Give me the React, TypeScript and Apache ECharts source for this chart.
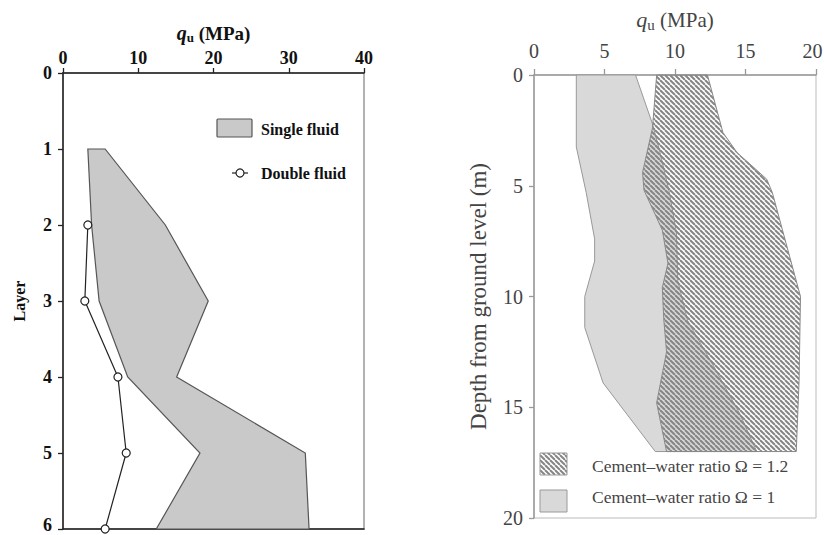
import React, { useEffect, useRef } from "react";
import * as echarts from "echarts";

// Left panel: strength by layer
const singleLayers = [1, 2, 3, 4, 5, 6];
const singleMin = [3.3, 3.8, 4.8, 8.6, 18.2, 12.4];
const singleMax = [5.6, 13.6, 19.3, 15.1, 32.2, 32.7];
const doubleLayers = [2, 3, 4, 5, 6];
const doubleValues = [3.3, 2.9, 7.3, 8.4, 5.6];

// Right panel: strength envelopes by depth (m)
const ratio1LeftDepth = [0, 3.25, 5.3, 7.4, 8.4, 10, 11.4, 13.9, 17];
const ratio1LeftQu = [3.0, 3.0, 3.7, 4.3, 4.3, 3.6, 3.6, 4.9, 8.6];
const ratio1RightDepth = [0, 2.2, 3.4, 5.3, 7.1, 9.3, 11.1, 13.1, 15.3, 17];
const ratio1RightQu = [7.2, 8.4, 8.9, 9.6, 10.1, 10.2, 10.9, 12.7, 14.6, 15.8];
const ratio12LeftDepth = [0, 2.4, 4.4, 5.2, 7.0, 8.5, 9.6, 11, 12.5, 14.8, 17];
const ratio12LeftQu = [8.7, 8.4, 7.7, 7.8, 9.1, 9.5, 9.1, 9.2, 9.4, 8.7, 9.4];
const ratio12RightDepth = [0, 2.6, 3.5, 4.7, 5.3, 10, 13.8, 17];
const ratio12RightQu = [12.3, 13.4, 14.4, 16.5, 16.9, 18.9, 18.8, 18.6];

const SERIF = "'Liberation Serif', 'Times New Roman', serif";

function makeHatch() {
  const s = 5;
  const c = document.createElement("canvas");
  c.width = s;
  c.height = s;
  const ctx = c.getContext("2d")!;
  ctx.strokeStyle = "#858585";
  ctx.lineWidth = 2;
  for (let k = -1; k <= 1; k++) {
    ctx.beginPath();
    ctx.moveTo(k * s, 0);
    ctx.lineTo(k * s + s, s);
    ctx.stroke();
  }
  return { image: c, repeat: "repeat", imageWidth: s, imageHeight: s } as any;
}

function band(
  name: string,
  axis: number,
  leftQ: number[],
  leftD: number[],
  rightQ: number[],
  rightD: number[],
  style: any,
  z: number
) {
  return {
    type: "custom",
    name,
    xAxisIndex: axis,
    yAxisIndex: axis,
    z,
    data: [[leftQ[0], leftD[0]]],
    renderItem: (_p: any, api: any) => {
      const pts: number[][] = [];
      leftQ.forEach((q, i) => pts.push(api.coord([q, leftD[i]])));
      for (let i = rightQ.length - 1; i >= 0; i--) pts.push(api.coord([rightQ[i], rightD[i]]));
      return { type: "polygon", shape: { points: pts }, style };
    },
  };
}

export default function App() {
  const ref = useRef<HTMLDivElement>(null);

  useEffect(() => {
    const chart = echarts.init(ref.current!, null, { renderer: "svg" });
    const hatch = makeHatch();

    const leftName = {
      q: { fontFamily: SERIF, fontStyle: "italic", fontWeight: "bold", fontSize: 20, color: "#111" },
      u: { fontFamily: SERIF, fontWeight: "bold", fontSize: 13, color: "#111", padding: [9, 0, 0, 0] },
      t: { fontFamily: SERIF, fontWeight: "bold", fontSize: 19, color: "#111" },
    };
    const rightName = {
      q: { fontFamily: SERIF, fontStyle: "italic", fontSize: 22, color: "#444" },
      u: { fontFamily: SERIF, fontSize: 15, color: "#444", padding: [10, 0, 0, 0] },
      t: { fontFamily: SERIF, fontSize: 21, color: "#444" },
    };

    chart.setOption({
      animation: false,
      backgroundColor: "#fff",
      grid: [
        {
          left: 63,
          top: 73,
          width: 301,
          height: 456,
          outerBoundsMode: "none",
          show: true,
          borderColor: "#999",
          borderWidth: 1.5,
        },
        {
          left: 534,
          top: 75,
          width: 282,
          height: 443,
          outerBoundsMode: "none",
          show: true,
          borderColor: "#bbb",
          borderWidth: 1,
        },
      ],
      xAxis: [
        {
          gridIndex: 0,
          type: "value",
          position: "top",
          min: 0,
          max: 40,
          interval: 10,
          name: "{q|q}{u|u}{t| (MPa)}",
          nameLocation: "middle",
          nameGap: 28,
          nameTextStyle: { rich: leftName },
          axisLine: { show: true, lineStyle: { color: "#222", width: 1.5 } },
          axisTick: { show: true, length: 5, lineStyle: { color: "#222", width: 1.3 } },
          axisLabel: { fontFamily: SERIF, fontWeight: "bold", fontSize: 18, color: "#111", margin: 6 },
          splitLine: { show: false },
        },
        {
          gridIndex: 1,
          type: "value",
          position: "top",
          min: 0,
          max: 20,
          interval: 5,
          name: "{q|q}{u|u}{t| (MPa)}",
          nameLocation: "middle",
          nameGap: 43,
          nameTextStyle: { rich: rightName },
          axisLine: { show: true, lineStyle: { color: "#999", width: 1.5 } },
          axisTick: { show: true, length: 6, lineStyle: { color: "#999", width: 1.3 } },
          axisLabel: {
            fontFamily: SERIF,
            fontSize: 20,
            color: "#444",
            margin: 14,
            // the last label sits against the page edge, so nudge it inwards
            formatter: (v: number) => (v === 20 ? `{e|${v}}` : String(v)),
            rich: { e: { fontFamily: SERIF, fontSize: 20, color: "#444", padding: [0, 7, 0, 0] } },
          },
          splitLine: { show: false },
        },
        {
          gridIndex: 0,
          type: "value",
          position: "bottom",
          min: 0,
          max: 40,
          axisLine: { show: true, lineStyle: { color: "#222", width: 1.5 } },
          axisTick: { show: false },
          axisLabel: { show: false },
          splitLine: { show: false },
        },
      ],
      yAxis: [
        {
          gridIndex: 0,
          type: "value",
          inverse: true,
          min: 0,
          max: 6,
          interval: 1,
          name: "Layer",
          nameLocation: "middle",
          nameGap: 36,
          nameTextStyle: { fontFamily: SERIF, fontWeight: "bold", fontSize: 16, color: "#111" },
          axisLine: { show: true, lineStyle: { color: "#222", width: 1.5 } },
          axisTick: { show: true, length: 5, lineStyle: { color: "#222", width: 1.3 } },
          axisLabel: {
            fontFamily: SERIF,
            fontWeight: "bold",
            fontSize: 18,
            color: "#111",
            margin: 11,
            // the bottom label sits against the page edge, so lift it slightly
            formatter: (v: number) => (v === 6 ? `{e|${v}}` : String(v)),
            rich: {
              e: { fontFamily: SERIF, fontWeight: "bold", fontSize: 18, color: "#111", padding: [0, 0, 8, 0] },
            },
          },
          splitLine: { show: false },
        },
        {
          gridIndex: 1,
          type: "value",
          inverse: true,
          min: 0,
          max: 20,
          interval: 5,
          name: "Depth from ground level (m)",
          nameLocation: "middle",
          nameGap: 44,
          nameTextStyle: { fontFamily: SERIF, fontSize: 23, color: "#444" },
          axisLine: { show: true, lineStyle: { color: "#999", width: 1.5 } },
          axisTick: { show: true, length: 5, lineStyle: { color: "#999", width: 1.3 } },
          axisLabel: { fontFamily: SERIF, fontSize: 20, color: "#444", margin: 11 },
          splitLine: { show: false },
        },
      ],
      series: [
        band(
          "Single fluid",
          0,
          singleMin,
          singleLayers,
          singleMax,
          singleLayers,
          { fill: "#c9c9c9", stroke: "#555", lineWidth: 1.2 },
          2
        ),
        {
          type: "line",
          name: "Double fluid",
          xAxisIndex: 0,
          yAxisIndex: 0,
          z: 3,
          clip: false,
          data: doubleValues.map((v, i) => [v, doubleLayers[i]]),
          symbol: "circle",
          symbolSize: 8,
          lineStyle: { color: "#222", width: 1.2 },
          itemStyle: { color: "#fff", borderColor: "#222", borderWidth: 1.2 },
        },
        band(
          "Cement–water ratio Ω = 1",
          1,
          ratio1LeftQu,
          ratio1LeftDepth,
          ratio1RightQu,
          ratio1RightDepth,
          { fill: "#d9d9d9", stroke: "#999", lineWidth: 1 },
          2
        ),
        band(
          "Cement–water ratio Ω = 1.2",
          1,
          ratio12LeftQu,
          ratio12LeftDepth,
          ratio12RightQu,
          ratio12RightDepth,
          { fill: hatch, stroke: "#888", lineWidth: 1 },
          3
        ),
      ],
      graphic: [
        // left legend
        { type: "rect", shape: { x: 217, y: 119, width: 35, height: 18, r: 1 }, style: { fill: "#c9c9c9", stroke: "#555", lineWidth: 1.2 } },
        { type: "text", x: 261, y: 129, style: { text: "Single fluid", font: `bold 16px ${SERIF}`, fill: "#111", textVerticalAlign: "middle" } },
        { type: "line", shape: { x1: 232, y1: 173, x2: 248, y2: 173 }, style: { stroke: "#222", lineWidth: 1.2 } },
        { type: "circle", shape: { cx: 240, cy: 173, r: 4 }, style: { fill: "#fff", stroke: "#222", lineWidth: 1.2 } },
        { type: "text", x: 261, y: 173, style: { text: "Double fluid", font: `bold 16px ${SERIF}`, fill: "#111", textVerticalAlign: "middle" } },
        // right legend
        { type: "rect", shape: { x: 540, y: 453, width: 27, height: 22 }, style: { fill: hatch, stroke: "#999", lineWidth: 1 } },
        { type: "text", x: 592, y: 466, style: { text: "Cement–water ratio Ω = 1.2", font: `17.5px ${SERIF}`, fill: "#444", textVerticalAlign: "middle" } },
        { type: "rect", shape: { x: 540, y: 490, width: 27, height: 22 }, style: { fill: "#d9d9d9", stroke: "#999", lineWidth: 1 } },
        { type: "text", x: 592, y: 497, style: { text: "Cement–water ratio Ω = 1", font: `17.5px ${SERIF}`, fill: "#444", textVerticalAlign: "middle" } },
      ],
    });

    return () => chart.dispose();
  }, []);

  return (
    <div
      ref={ref}
      style={{ position: "absolute", left: 0, top: 0, width: 824, height: 535, background: "#fff" }}
    />
  );
}
